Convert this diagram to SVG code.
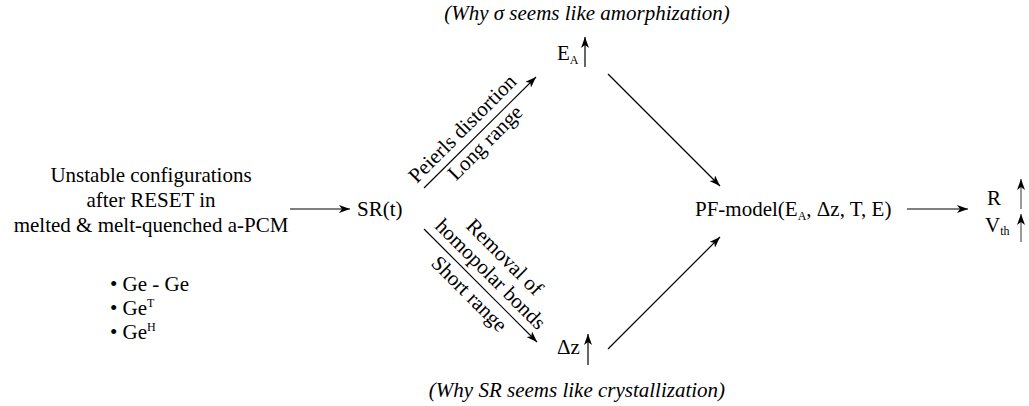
<svg xmlns="http://www.w3.org/2000/svg" width="1029" height="406" viewBox="0 0 1029 406" font-family="'Liberation Serif', 'Times New Roman', serif">
<defs>
<marker id="ah" markerUnits="userSpaceOnUse" markerWidth="12" markerHeight="8" refX="11" refY="4" orient="auto">
<path d="M0,0 L11,4 L0,8 L3,4 z" fill="#000"/>
</marker>
<style>
text{font-family:'Liberation Serif','Times New Roman',serif;font-size:21px;fill:#000}
.it{font-style:italic}
.sub{font-size:12px}
.ar{stroke:#000;stroke-width:1.2;fill:none;marker-end:url(#ah)}
.gr{stroke:#555}
</style>
</defs>
<rect width="1029" height="406" fill="#fff"/>

<g id="title-top"><text class="it" x="587" y="20" text-anchor="middle">(Why σ seems like amorphization)</text></g>
<g id="title-bottom"><text class="it" x="577" y="397" text-anchor="middle">(Why SR seems like crystallization)</text></g>

<g id="unstable">
<text x="151" y="182" text-anchor="middle">Unstable configurations</text>
<text x="151" y="207" text-anchor="middle">after RESET in</text>
<text x="151" y="232" text-anchor="middle">melted &amp; melt-quenched a-PCM</text>
</g>

<g id="bullets">
<text x="110" y="291">• Ge - Ge</text>
<text x="110" y="315">• Ge<tspan class="sub" dy="-8">T</tspan></text>
<text x="110" y="339">• Ge<tspan class="sub" dy="-8">H</tspan></text>
</g>

<g id="sr"><text x="357" y="216">SR(t)</text></g>

<g id="ea"><text x="557" y="60">E<tspan class="sub" dy="4">A</tspan></text></g>
<g id="dz"><text x="557" y="354">Δz</text></g>

<g id="pf"><text x="695" y="216">PF-model(E<tspan class="sub" dy="4">A</tspan><tspan dy="-4">, Δz, T, E)</tspan></text></g>

<g id="outputs">
<text x="987" y="205">R</text>
<text x="985" y="232">V<tspan class="sub" dy="3">th</tspan></text>
</g>

<g id="labels-upper" transform="translate(480,132) rotate(-45)">
<text x="-10" y="-8" text-anchor="middle">Peierls distortion</text>
<text x="-4" y="18" text-anchor="middle">Long range</text>
</g>

<g id="labels-lower" transform="translate(480,286) rotate(45)">
<text x="-3" y="-31" text-anchor="middle">Removal of</text>
<text x="-1" y="-9" text-anchor="middle">homopolar bonds</text>
<text x="-2" y="20" text-anchor="middle">Short range</text>
</g>

<g id="connectors">
<line class="ar" x1="290" y1="209" x2="350" y2="209"/>
<line class="ar" x1="424" y1="188" x2="536" y2="77"/>
<line class="ar" x1="424" y1="229" x2="537" y2="342"/>
<line class="ar" x1="608" y1="74" x2="720" y2="186"/>
<line class="ar" x1="608" y1="349" x2="720" y2="237"/>
<line class="ar" x1="907" y1="209" x2="968" y2="209"/>
<line class="ar" x1="585" y1="67" x2="585" y2="37"/>
<line class="ar" x1="588" y1="365" x2="588" y2="334"/>
<line class="ar gr" x1="1021" y1="209" x2="1021" y2="179"/>
<line class="ar gr" x1="1021" y1="242" x2="1021" y2="214"/>
</g>
</svg>
